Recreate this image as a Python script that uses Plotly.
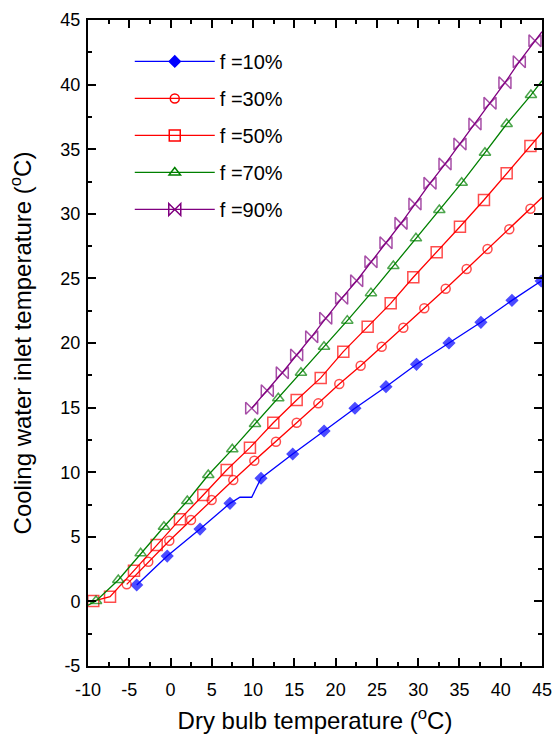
import plotly.graph_objects as go

# f = 10 %
x10 = [-4.1, -0.4, 3.57, 7.2, 8.41, 9.83, 10.96, 14.8, 18.6, 22.34, 26.1, 29.8, 33.73, 37.6, 41.36, 44.9]
y10 = [1.27, 3.51, 5.6, 7.59, 8.06, 8.06, 9.53, 11.41, 13.19, 14.95, 16.62, 18.35, 20.0, 21.6, 23.3, 24.8]
m10 = [1, 1, 1, 1, 0, 0, 1, 1, 1, 1, 1, 1, 1, 1, 1, 1]

# f = 30 %
x30 = [-5.31, -2.7, -0.15, 2.48, 4.98, 7.6, 10.15, 12.77, 15.28, 17.9, 20.44, 23.03, 25.58, 28.2,
       30.74, 33.33, 35.87, 38.4, 41.04, 43.6, 45.0]
y30 = [1.32, 3.07, 4.7, 6.3, 7.85, 9.4, 10.89, 12.36, 13.83, 15.33, 16.83, 18.24, 19.71, 21.18,
       22.69, 24.2, 25.73, 27.27, 28.8, 30.39, 31.26]
m30 = [1] * 20 + [0]

# f = 50 %
x50 = [-9.36, -7.33, -4.43, -1.68, 1.14, 3.97, 6.8, 9.62, 12.45, 15.28, 18.19, 20.93, 23.88, 26.67,
       29.41, 32.24, 35.06, 37.97, 40.72, 43.6, 45.0]
y50 = [0.03, 0.36, 2.38, 4.37, 6.35, 8.24, 10.17, 11.9, 13.83, 15.59, 17.3, 19.33, 21.26, 23.07,
       25.09, 27.02, 29.0, 31.07, 33.13, 35.25, 36.3]
m50 = [1] * 20 + [0]

# f = 70 %
x70 = [-10.0, -9.03, -6.33, -3.62, -0.8, 2.03, 4.57, 7.48, 10.23, 13.05, 15.8, 18.59, 21.41, 24.28,
       26.99, 29.73, 32.56, 35.27, 38.09, 40.72, 43.66, 45.0]
y70 = [-0.3, 0.03, 1.66, 3.72, 5.78, 7.77, 9.78, 11.77, 13.73, 15.72, 17.7, 19.71, 21.73, 23.86,
       25.96, 28.1, 30.29, 32.4, 34.73, 36.95, 39.19, 40.3]
m70 = [0] + [1] * 20 + [0]

# f = 90 %
x90 = [9.83, 11.72, 13.54, 15.28, 17.1, 18.8, 20.73, 22.55, 24.28, 26.1, 27.92, 29.61, 31.43, 33.25,
       35.06, 36.88, 38.7, 40.51, 42.25, 44.15, 45.0]
y90 = [14.95, 16.31, 17.7, 19.07, 20.49, 21.91, 23.46, 24.82, 26.29, 27.76, 29.26, 30.76, 32.36, 33.85,
       35.4, 36.95, 38.55, 40.15, 41.77, 43.4, 44.1]
m90 = [1] * 20 + [0]

names = ["f =10%", "f =30%", "f =50%", "f =70%", "f =90%"]
x_ticks = [-10, -5, 0, 5, 10, 15, 20, 25, 30, 35, 40, 45]
y_ticks = [-5, 0, 5, 10, 15, 20, 25, 30, 35, 40, 45]

series = [
    (x10, y10, m10, "#0000FF", "diamond", 8.5),
    (x30, y30, m30, "#FF0000", "circle-open", 9),
    (x50, y50, m50, "#FF0000", "square-open", 11),
    (x70, y70, m70, "#008000", "triangle-up-open", 10),
    (x90, y90, m90, "#800080", "bowtie-open", 12),
]

fig = go.Figure()
for i, (xs, ys, ms, col, sym, sz) in enumerate(series):
    fig.add_trace(go.Scatter(
        x=xs, y=ys, mode="lines+markers", name=names[i], legendgroup=str(i), showlegend=False,
        line=dict(color=col, width=1.3),
        marker=dict(symbol=sym, size=[sz * m for m in ms], color=col,
                    line=dict(color=col, width=1.5)),
    ))
# legend entries
for i, (xs, ys, ms, col, sym, sz) in enumerate(series):
    fig.add_trace(go.Scatter(
        x=[None], y=[None], mode="lines+markers", name=names[i], legendgroup=str(i), showlegend=True,
        line=dict(color=col, width=1.3),
        marker=dict(symbol=sym, size=sz, color=col, line=dict(color=col, width=1.5)),
    ))

font_family = "Liberation Sans, Arial, sans-serif"
fig.update_layout(
    width=552, height=735,
    margin=dict(l=88, r=10, t=20, b=69, autoexpand=False),
    paper_bgcolor="white", plot_bgcolor="white",
    font=dict(family=font_family, color="black"),
    showlegend=True,
    legend=dict(x=0.092, y=0.966, xanchor="left", yanchor="top",
                font=dict(size=20, family=font_family, color="black"),
                bgcolor="rgba(0,0,0,0)", traceorder="grouped", tracegroupgap=8,
                itemwidth=80),
)
axis_common = dict(
    showline=True, linecolor="black", linewidth=2, mirror="ticks",
    ticks="inside", ticklen=8, tickwidth=1.5, tickcolor="black",
    showgrid=False, zeroline=False, automargin=False, ticklabeloverflow="allow",
    tickfont=dict(size=18, family=font_family, color="black"),
    minor=dict(ticks="inside", ticklen=4, tickwidth=1.5, tickcolor="black", dtick=2.5, showgrid=False),
)
fig.update_xaxes(range=[-10, 45], tickmode="array", tickvals=x_ticks,
                 ticktext=[str(v) for v in x_ticks], ticklabelstandoff=6,
                 title=dict(text="Dry bulb temperature (<sup>o</sup>C)", font=dict(size=24), standoff=14),
                 **axis_common)
fig.update_yaxes(range=[-5, 45], tickmode="array", tickvals=y_ticks,
                 ticktext=[str(v) for v in y_ticks], ticklabelstandoff=2,
                 title=dict(text="Cooling water inlet temperature (<sup>o</sup>C)", font=dict(size=24), standoff=22),
                 **axis_common)

fig.write_html("out.html")
